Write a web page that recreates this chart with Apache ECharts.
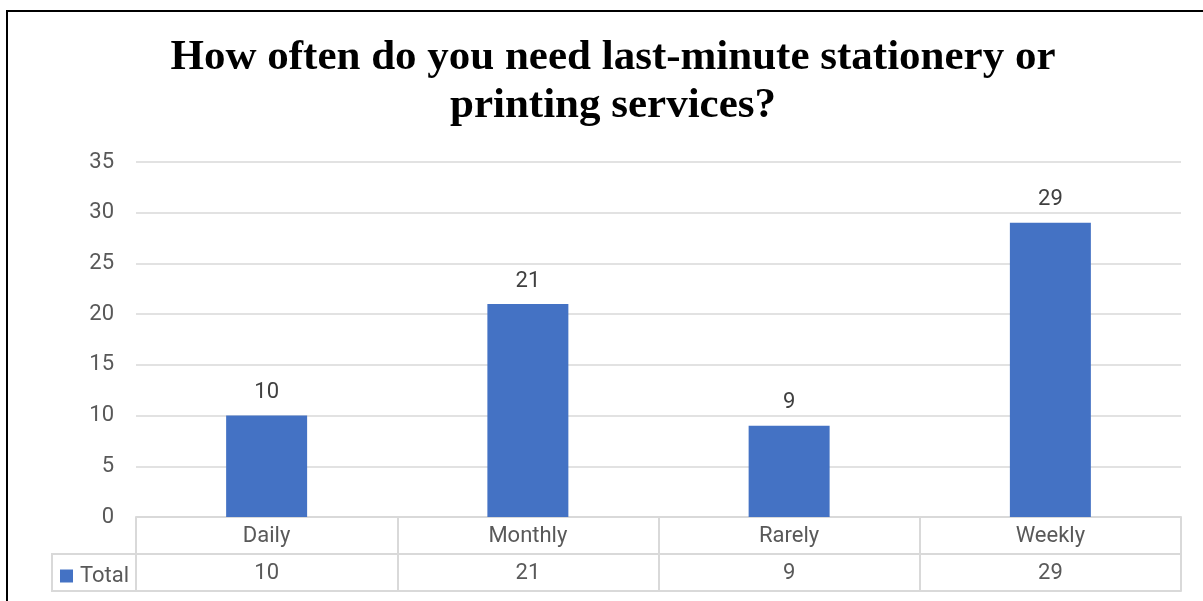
<!DOCTYPE html>
<html>
<head>
<meta charset="utf-8">
<script src="https://cdn.jsdelivr.net/npm/echarts@6/dist/echarts.min.js"></script>
<style>
html,body{margin:0;padding:0;background:#fff;}
#c{width:1203px;height:601px;}
</style>
</head>
<body>
<div id="c"></div>
<script>
const titleText = 'How often do you need last-minute stationery or\nprinting services?';
const categories = ['Daily', 'Monthly', 'Rarely', 'Weekly'];
const seriesName = 'Total';
const totals = [10, 21, 9, 29];
const yTicks = { min: 0, max: 35, interval: 5 };

const gridLeft = 136, gridRight = 22, gridTop = 162, gridBottom = 84;
const rowH = 37;
const gray = '#595959';
const lineGray = '#d9d9d9';
const blue = '#4472C4';
const sansFont = 'Roboto';
const fs = 22;

const chart = echarts.init(document.getElementById('c'), null, {renderer: 'canvas'});
const H = 601;
const axisY = H - gridBottom;

chart.setOption({
  animation: false,
  backgroundColor: '#fff',
  title: {
    text: titleText,
    left: 608,
    top: 29,
    textAlign: 'center',
    textStyle: {
      fontFamily: 'Liberation Serif',
      fontWeight: 'bold',
      fontSize: 43,
      lineHeight: 48,
      color: '#000'
    }
  },
  legend: {
    show: true,
    left: 60,
    top: axisY + rowH + 11,
    padding: 0,
    itemWidth: 13,
    itemHeight: 13,
    icon: 'rect',
    textStyle: { fontFamily: sansFont, fontSize: fs, color: gray, padding: [0,0,0,2] },
    data: [seriesName]
  },
  grid: { left: gridLeft, right: gridRight, top: gridTop, bottom: gridBottom, containLabel: false },
  xAxis: [
    {
      type: 'category',
      data: categories,
      position: 'bottom',
      axisLine: { show: true, lineStyle: { color: lineGray, width: 2 } },
      axisTick: { show: true, length: rowH * 2, lineStyle: { color: lineGray, width: 2 } },
      axisLabel: { fontFamily: sansFont, fontSize: fs, color: gray, margin: 8 }
    },
    {
      type: 'category',
      data: totals.map(String),
      position: 'bottom',
      offset: rowH,
      axisLine: { show: true, lineStyle: { color: lineGray, width: 2 } },
      axisTick: { show: false },
      axisLabel: { fontFamily: sansFont, fontSize: fs, color: gray, margin: 8 }
    },
    {
      type: 'category',
      data: categories,
      position: 'bottom',
      offset: rowH * 2,
      axisLine: { show: true, lineStyle: { color: lineGray, width: 2 } },
      axisTick: { show: false },
      axisLabel: { show: false }
    }
  ],
  yAxis: {
    type: 'value',
    min: yTicks.min,
    max: yTicks.max,
    interval: yTicks.interval,
    axisLine: { show: false },
    axisTick: { show: false },
    axisLabel: { fontFamily: sansFont, fontSize: fs, color: gray, margin: 22 },
    splitLine: { lineStyle: { color: lineGray, width: 1.5 } }
  },
  series: [{
    name: seriesName,
    type: 'bar',
    xAxisIndex: 0,
    data: totals,
    barWidth: '31%',
    itemStyle: { color: blue },
    label: { show: true, position: 'top', distance: 12, fontFamily: sansFont, fontSize: fs, color: '#404040' }
  }]
});

// Legend cell border and chart frame (layout only)
chart.setOption({
  graphic: [
    {
      type: 'rect',
      shape: { x: 52, y: axisY + rowH, width: gridLeft - 52, height: rowH },
      style: { fill: 'none', stroke: lineGray, lineWidth: 2 },
      silent: true
    },
    {
      type: 'rect',
      shape: { x: 7, y: 11, width: 1300, height: 700 },
      style: { fill: 'none', stroke: '#000', lineWidth: 2 },
      silent: true
    }
  ]
});
</script>
</body>
</html>
